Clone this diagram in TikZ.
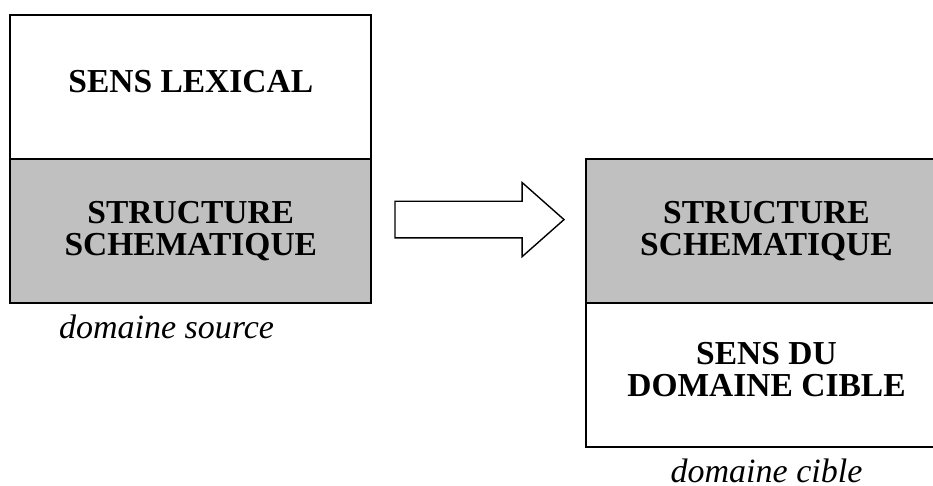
\documentclass[tikz,border=0pt]{standalone}
\usepackage{fontspec}
\setmainfont{Liberation Serif}
\usepackage{tikz}
\usetikzlibrary{positioning,shapes,arrows,calc}
\definecolor{cellgray}{RGB}{192,192,192}

\begin{document}
\begin{tikzpicture}[
cell/.style={rectangle, draw=black, line width=1.8pt, outer sep=0pt, minimum width=361pt, minimum height=144pt, align=center, font=\fontsize{33.5}{32.5}\selectfont\bfseries},
plain/.style={cell, text depth=11pt},
shaded/.style={cell, fill=cellgray},
caption/.style={font=\fontsize{34}{40}\selectfont\itshape, inner sep=0pt, anchor=base},
blockarrow/.style={single arrow, draw=black, line width=1.4pt, fill=white, minimum height=169pt, inner xsep=0pt, inner ysep=17.6pt, single arrow head extend=18.7pt, single arrow tip angle=83, anchor=tail}
]

\useasboundingbox (0,0) rectangle (933pt,-486pt);

%Nodes
\node[plain] (lexical) at (190.8pt,-87pt) {SENS LEXICAL};
\node[shaded] (struct_src) [below=0pt of lexical] {STRUCTURE\\SCHEMATIQUE};
\node[shaded] (struct_tgt) [right=214.7pt of struct_src] {STRUCTURE\\SCHEMATIQUE};
\node[plain] (sens_tgt) [below=0pt of struct_tgt] {SENS DU\\DOMAINE CIBLE};

\node[blockarrow] (mapping) at ($(struct_src.east)+(23pt,11.4pt)$) {};

\node[caption] (src_caption) at ($(struct_src.south)+(-24.3pt,-35.6pt)$) {domaine source};
\node[caption] (tgt_caption) at ($(sens_tgt.south)+(0pt,-35.5pt)$) {domaine cible};
\end{tikzpicture}
\end{document}
